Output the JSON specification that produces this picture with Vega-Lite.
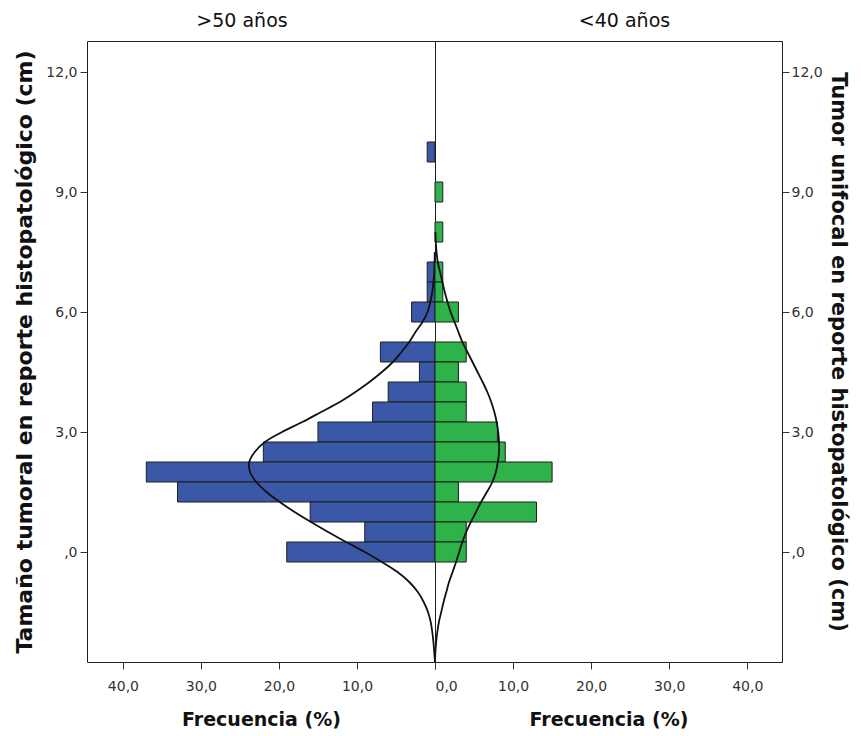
{
  "$schema": "https://vega.github.io/schema/vega-lite/v6.json",
  "background": "white",
  "padding": {"left": 13, "top": 11, "right": 6, "bottom": 4},
  "autosize": {"type": "pad"},
  "config": {
    "font": "DejaVu Sans",
    "view": {"stroke": "#1f1f1f", "strokeWidth": 1},
    "concat": {"spacing": 0},
    "axis": {
      "grid": false,
      "domain": false,
      "tickColor": "#333333",
      "tickSize": 7,
      "labelColor": "#333333",
      "labelFontSize": 14,
      "labelFont": "DejaVu Sans",
      "titleFont": "DejaVu Sans",
      "titleFontWeight": "bold",
      "titleColor": "#111111"
    },
    "title": {"font": "DejaVu Sans", "fontSize": 19, "fontWeight": "normal", "color": "#111111", "offset": 10}
  },
  "datasets": {
    "barras": [
      {"grupo": ">50 años", "desde": 9.75, "hasta": 10.25, "pct": 1},
      {"grupo": ">50 años", "desde": 6.75, "hasta": 7.25, "pct": 1},
      {"grupo": ">50 años", "desde": 6.25, "hasta": 6.75, "pct": 1},
      {"grupo": ">50 años", "desde": 5.75, "hasta": 6.25, "pct": 3},
      {"grupo": ">50 años", "desde": 4.75, "hasta": 5.25, "pct": 7},
      {"grupo": ">50 años", "desde": 4.25, "hasta": 4.75, "pct": 2},
      {"grupo": ">50 años", "desde": 3.75, "hasta": 4.25, "pct": 6},
      {"grupo": ">50 años", "desde": 3.25, "hasta": 3.75, "pct": 8},
      {"grupo": ">50 años", "desde": 2.75, "hasta": 3.25, "pct": 15},
      {"grupo": ">50 años", "desde": 2.25, "hasta": 2.75, "pct": 22},
      {"grupo": ">50 años", "desde": 1.75, "hasta": 2.25, "pct": 37},
      {"grupo": ">50 años", "desde": 1.25, "hasta": 1.75, "pct": 33},
      {"grupo": ">50 años", "desde": 0.75, "hasta": 1.25, "pct": 16},
      {"grupo": ">50 años", "desde": 0.25, "hasta": 0.75, "pct": 9},
      {"grupo": ">50 años", "desde": -0.25, "hasta": 0.25, "pct": 19},
      {"grupo": "<40 años", "desde": 8.75, "hasta": 9.25, "pct": 1},
      {"grupo": "<40 años", "desde": 7.75, "hasta": 8.25, "pct": 1},
      {"grupo": "<40 años", "desde": 6.75, "hasta": 7.25, "pct": 1},
      {"grupo": "<40 años", "desde": 6.25, "hasta": 6.75, "pct": 1},
      {"grupo": "<40 años", "desde": 5.75, "hasta": 6.25, "pct": 3},
      {"grupo": "<40 años", "desde": 4.75, "hasta": 5.25, "pct": 4},
      {"grupo": "<40 años", "desde": 4.25, "hasta": 4.75, "pct": 3},
      {"grupo": "<40 años", "desde": 3.75, "hasta": 4.25, "pct": 4},
      {"grupo": "<40 años", "desde": 3.25, "hasta": 3.75, "pct": 4},
      {"grupo": "<40 años", "desde": 2.75, "hasta": 3.25, "pct": 8},
      {"grupo": "<40 años", "desde": 2.25, "hasta": 2.75, "pct": 9},
      {"grupo": "<40 años", "desde": 1.75, "hasta": 2.25, "pct": 15},
      {"grupo": "<40 años", "desde": 1.25, "hasta": 1.75, "pct": 3},
      {"grupo": "<40 años", "desde": 0.75, "hasta": 1.25, "pct": 13},
      {"grupo": "<40 años", "desde": 0.25, "hasta": 0.75, "pct": 4},
      {"grupo": "<40 años", "desde": -0.25, "hasta": 0.25, "pct": 4}
    ],
    "curvas": [
      {"grupo": ">50 años", "tamano": -2.75, "pct": 0.0},
      {"grupo": ">50 años", "tamano": -2.5, "pct": 0.1},
      {"grupo": ">50 años", "tamano": -2.25, "pct": 0.2},
      {"grupo": ">50 años", "tamano": -2.0, "pct": 0.35},
      {"grupo": ">50 años", "tamano": -1.75, "pct": 0.55},
      {"grupo": ">50 años", "tamano": -1.5, "pct": 0.9},
      {"grupo": ">50 años", "tamano": -1.25, "pct": 1.45},
      {"grupo": ">50 años", "tamano": -1.0, "pct": 2.2},
      {"grupo": ">50 años", "tamano": -0.75, "pct": 3.3},
      {"grupo": ">50 años", "tamano": -0.5, "pct": 4.8},
      {"grupo": ">50 años", "tamano": -0.25, "pct": 6.8},
      {"grupo": ">50 años", "tamano": 0.0, "pct": 9.0},
      {"grupo": ">50 años", "tamano": 0.25, "pct": 11.4},
      {"grupo": ">50 años", "tamano": 0.5, "pct": 13.7},
      {"grupo": ">50 años", "tamano": 0.75, "pct": 15.9},
      {"grupo": ">50 años", "tamano": 1.0, "pct": 18.0},
      {"grupo": ">50 años", "tamano": 1.25, "pct": 19.9},
      {"grupo": ">50 años", "tamano": 1.5, "pct": 21.6},
      {"grupo": ">50 años", "tamano": 1.75, "pct": 22.9},
      {"grupo": ">50 años", "tamano": 2.0, "pct": 23.7},
      {"grupo": ">50 años", "tamano": 2.25, "pct": 23.8},
      {"grupo": ">50 años", "tamano": 2.5, "pct": 23.1},
      {"grupo": ">50 años", "tamano": 2.75, "pct": 21.8},
      {"grupo": ">50 años", "tamano": 3.0, "pct": 19.6},
      {"grupo": ">50 años", "tamano": 3.25, "pct": 17.0},
      {"grupo": ">50 años", "tamano": 3.5, "pct": 14.6},
      {"grupo": ">50 años", "tamano": 3.75, "pct": 12.2},
      {"grupo": ">50 años", "tamano": 4.0, "pct": 10.2},
      {"grupo": ">50 años", "tamano": 4.25, "pct": 8.4},
      {"grupo": ">50 años", "tamano": 4.5, "pct": 6.8},
      {"grupo": ">50 años", "tamano": 4.75, "pct": 5.4},
      {"grupo": ">50 años", "tamano": 5.0, "pct": 4.3},
      {"grupo": ">50 años", "tamano": 5.25, "pct": 3.3},
      {"grupo": ">50 años", "tamano": 5.5, "pct": 2.5},
      {"grupo": ">50 años", "tamano": 5.75, "pct": 1.6},
      {"grupo": ">50 años", "tamano": 6.0, "pct": 0.95},
      {"grupo": ">50 años", "tamano": 6.25, "pct": 0.6},
      {"grupo": ">50 años", "tamano": 6.5, "pct": 0.35},
      {"grupo": ">50 años", "tamano": 6.75, "pct": 0.2},
      {"grupo": ">50 años", "tamano": 7.0, "pct": 0.1},
      {"grupo": ">50 años", "tamano": 7.5, "pct": 0.03},
      {"grupo": "<40 años", "tamano": -2.75, "pct": 0.0},
      {"grupo": "<40 años", "tamano": -2.5, "pct": 0.05},
      {"grupo": "<40 años", "tamano": -2.25, "pct": 0.15},
      {"grupo": "<40 años", "tamano": -2.0, "pct": 0.3},
      {"grupo": "<40 años", "tamano": -1.75, "pct": 0.5},
      {"grupo": "<40 años", "tamano": -1.5, "pct": 0.8},
      {"grupo": "<40 años", "tamano": -1.25, "pct": 1.1},
      {"grupo": "<40 años", "tamano": -1.0, "pct": 1.45},
      {"grupo": "<40 años", "tamano": -0.75, "pct": 1.8},
      {"grupo": "<40 años", "tamano": -0.5, "pct": 2.25},
      {"grupo": "<40 años", "tamano": -0.25, "pct": 2.7},
      {"grupo": "<40 años", "tamano": 0.0, "pct": 3.1},
      {"grupo": "<40 años", "tamano": 0.25, "pct": 3.5},
      {"grupo": "<40 años", "tamano": 0.5, "pct": 4.0},
      {"grupo": "<40 años", "tamano": 0.75, "pct": 4.6},
      {"grupo": "<40 años", "tamano": 1.0, "pct": 5.25},
      {"grupo": "<40 años", "tamano": 1.25, "pct": 5.9},
      {"grupo": "<40 años", "tamano": 1.5, "pct": 6.65},
      {"grupo": "<40 años", "tamano": 1.75, "pct": 7.35},
      {"grupo": "<40 años", "tamano": 2.0, "pct": 7.8},
      {"grupo": "<40 años", "tamano": 2.25, "pct": 8.05},
      {"grupo": "<40 años", "tamano": 2.5, "pct": 8.2},
      {"grupo": "<40 años", "tamano": 2.75, "pct": 8.2},
      {"grupo": "<40 años", "tamano": 3.0, "pct": 8.1},
      {"grupo": "<40 años", "tamano": 3.25, "pct": 7.9},
      {"grupo": "<40 años", "tamano": 3.5, "pct": 7.6},
      {"grupo": "<40 años", "tamano": 3.75, "pct": 7.2},
      {"grupo": "<40 años", "tamano": 4.0, "pct": 6.7},
      {"grupo": "<40 años", "tamano": 4.25, "pct": 6.1},
      {"grupo": "<40 años", "tamano": 4.5, "pct": 5.45},
      {"grupo": "<40 años", "tamano": 4.75, "pct": 4.8},
      {"grupo": "<40 años", "tamano": 5.0, "pct": 4.15},
      {"grupo": "<40 años", "tamano": 5.25, "pct": 3.5},
      {"grupo": "<40 años", "tamano": 5.5, "pct": 3.0},
      {"grupo": "<40 años", "tamano": 5.75, "pct": 2.5},
      {"grupo": "<40 años", "tamano": 6.0, "pct": 2.0},
      {"grupo": "<40 años", "tamano": 6.25, "pct": 1.6},
      {"grupo": "<40 años", "tamano": 6.5, "pct": 1.25},
      {"grupo": "<40 años", "tamano": 6.75, "pct": 0.95},
      {"grupo": "<40 años", "tamano": 7.0, "pct": 0.65},
      {"grupo": "<40 años", "tamano": 7.25, "pct": 0.35},
      {"grupo": "<40 años", "tamano": 7.5, "pct": 0.2},
      {"grupo": "<40 años", "tamano": 7.75, "pct": 0.1},
      {"grupo": "<40 años", "tamano": 8.0, "pct": 0.05}
    ]
  },
  "bounds": "flush",
  "hconcat": [
    {
      "title": {"text": ">50 años", "dx": -19},
      "width": 348,
      "height": 621,
      "layer": [
        {
          "data": {"name": "barras"},
          "transform": [{"filter": "datum.grupo === '>50 años'"}],
          "mark": {"type": "rect", "fill": "#3b57a8", "stroke": "#1f1f1f", "strokeWidth": 1},
          "encoding": {
            "x": {
              "field": "pct", "type": "quantitative",
              "scale": {"domain": [0, 44.6], "reverse": true, "nice": false, "zero": false},
              "axis": {
                "values": [0, 10, 20, 30, 40],
                "labelExpr": "datum.value === 0 ? '' : replace(format(datum.value, '.1f'), '.', ',')",
                "labelPadding": 10,
                "title": "Frecuencia (%)", "titleFontSize": 19, "titlePadding": 17
              }
            },
            "x2": {"datum": 0},
            "y": {
              "field": "desde", "type": "quantitative",
              "scale": {"domain": [-2.75, 12.775], "nice": false, "zero": false},
              "axis": {
                "orient": "left",
                "values": [0, 3, 6, 9, 12],
                "labelExpr": "datum.value === 0 ? ',0' : replace(format(datum.value, '.1f'), '.', ',')",
                "labelPadding": 3,
                "title": "Tamaño tumoral en reporte histopatológico (cm)", "titleFontSize": 22, "titlePadding": 9
              }
            },
            "y2": {"field": "hasta"}
          }
        },
        {
          "data": {"name": "curvas"},
          "transform": [{"filter": "datum.grupo === '>50 años'"}],
          "mark": {"type": "line", "color": "#111111", "strokeWidth": 1.8, "interpolate": "catmull-rom"},
          "encoding": {
            "x": {"field": "pct", "type": "quantitative", "title": "Frecuencia (%)"},
            "y": {"field": "tamano", "type": "quantitative", "title": "Tamaño tumoral en reporte histopatológico (cm)"},
            "order": {"field": "tamano", "type": "quantitative"}
          }
        }
      ]
    },
    {
      "title": {"text": "<40 años", "dx": 16},
      "width": 347,
      "height": 621,
      "layer": [
        {
          "data": {"name": "barras"},
          "transform": [{"filter": "datum.grupo === '<40 años'"}],
          "mark": {"type": "rect", "fill": "#2db34a", "stroke": "#1f1f1f", "strokeWidth": 1},
          "encoding": {
            "x": {
              "field": "pct", "type": "quantitative",
              "scale": {"domain": [0, 44.45], "nice": false, "zero": false},
              "axis": {
                "values": [0, 10, 20, 30, 40],
                "labelExpr": "replace(format(datum.value, '.1f'), '.', ',')",
                "labelPadding": 10,
                "title": "Frecuencia (%)", "titleFontSize": 19, "titlePadding": 17
              }
            },
            "x2": {"datum": 0},
            "y": {
              "field": "desde", "type": "quantitative",
              "scale": {"domain": [-2.75, 12.775], "nice": false, "zero": false},
              "axis": {
                "orient": "right",
                "values": [0, 3, 6, 9, 12],
                "labelExpr": "datum.value === 0 ? ',0' : replace(format(datum.value, '.1f'), '.', ',')",
                "labelPadding": 2,
                "title": "Tumor unifocal en reporte histopatológico (cm)", "titleFontSize": 21, "titlePadding": 5
              }
            },
            "y2": {"field": "hasta"}
          }
        },
        {
          "data": {"name": "curvas"},
          "transform": [{"filter": "datum.grupo === '<40 años'"}],
          "mark": {"type": "line", "color": "#111111", "strokeWidth": 1.8, "interpolate": "catmull-rom"},
          "encoding": {
            "x": {"field": "pct", "type": "quantitative", "title": "Frecuencia (%)"},
            "y": {"field": "tamano", "type": "quantitative", "title": "Tumor unifocal en reporte histopatológico (cm)"},
            "order": {"field": "tamano", "type": "quantitative"}
          }
        }
      ]
    }
  ]
}
